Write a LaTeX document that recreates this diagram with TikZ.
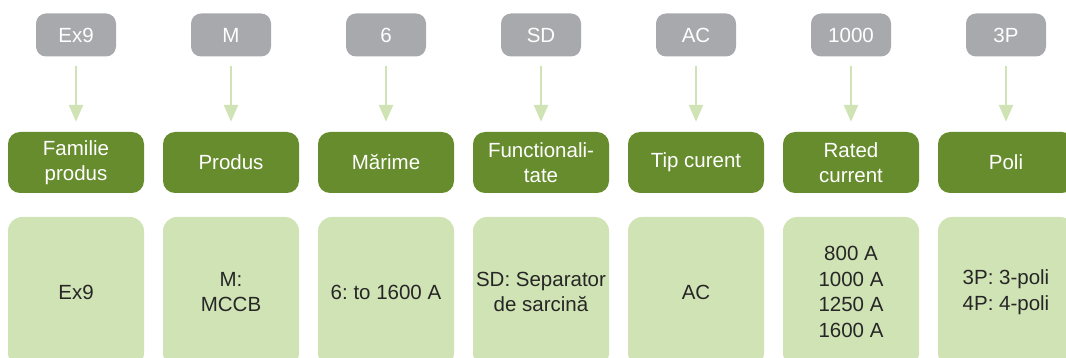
\documentclass[tikz,border=0pt]{standalone}
\usepackage{fontspec}
\setmainfont{Liberation Sans}
\frenchspacing
\usetikzlibrary{positioning,arrows.meta}
\definecolor{codegray}{HTML}{A7A9AC}
\definecolor{fieldgreen}{HTML}{678C2E}
\definecolor{valuegreen}{HTML}{D0E3B4}
\definecolor{valuetext}{HTML}{262626}

\begin{document}
\begin{tikzpicture}[x=1pt,y=1pt,node distance=155pt,
  code/.style={fill=codegray,text=white,rounded corners=10pt,minimum width=80pt,minimum height=43pt,inner sep=0pt,font=\fontsize{20.5}{25}\selectfont},
  field/.style={fill=fieldgreen,text=white,rounded corners=12pt,minimum width=136pt,minimum height=61pt,inner sep=0pt,align=center,font=\fontsize{20.5}{25}\selectfont},
  value/.style={fill=valuegreen,text=valuetext,rounded corners=14pt,minimum width=136pt,minimum height=150pt,inner sep=0pt,align=center,font=\fontsize{20.5}{25.5}\selectfont},
  link/.style={-{Triangle[width=14pt,length=17pt]},draw=valuegreen,line width=2.5pt,shorten <=9.5pt,shorten >=10pt}]
  \useasboundingbox (0,0) rectangle (1066,-358);
  \clip (0,0) rectangle (1066,-358);

  \node[code] (cex9) at (76,-35) {Ex9};
  \node[code] (cm) [right of=cex9] {M};
  \node[code] (c6) [right of=cm] {6};
  \node[code] (csd) [right of=c6] {SD};
  \node[code] (cac) [right of=csd] {AC};
  \node[code] (c1000) [right of=cac] {1000};
  \node[code] (c3p) [right of=c1000] {3P};

  \node[field] (fam) at (76,-162.5) {Familie\\produs};
  \node[field] (prod) [right of=fam] {Produs};
  \node[field] (size) [right of=prod] {Mărime};
  \node[field] (func) [right of=size] {Functionali-\\tate};
  \node[field] (tip) [right of=func] {Tip curent};
  \node[field] (rated) [right of=tip] {Rated\\current};
  \node[field] (poli) [right of=rated] {Poli};

  \node[value] (vfam) at (76,-292) {Ex9};
  \node[value] (vprod) [right of=vfam] {M:\\MCCB};
  \node[value] (vsize) [right of=vprod] {6: to 1600 A};
  \node[value] (vfunc) [right of=vsize] {SD: Separator\\de sarcină};
  \node[value] (vtip) [right of=vfunc] {AC};
  \node[value] (vrated) [right of=vtip] {800 A\\1000 A\\1250 A\\1600 A};
  \node[value] (vpoli) [right of=vrated] {3P: 3-poli\\4P: 4-poli};

  \draw [link] (cex9) to (fam);
  \draw [link] (cm) to (prod);
  \draw [link] (c6) to (size);
  \draw [link] (csd) to (func);
  \draw [link] (cac) to (tip);
  \draw [link] (c1000) to (rated);
  \draw [link] (c3p) to (poli);
\end{tikzpicture}
\end{document}
